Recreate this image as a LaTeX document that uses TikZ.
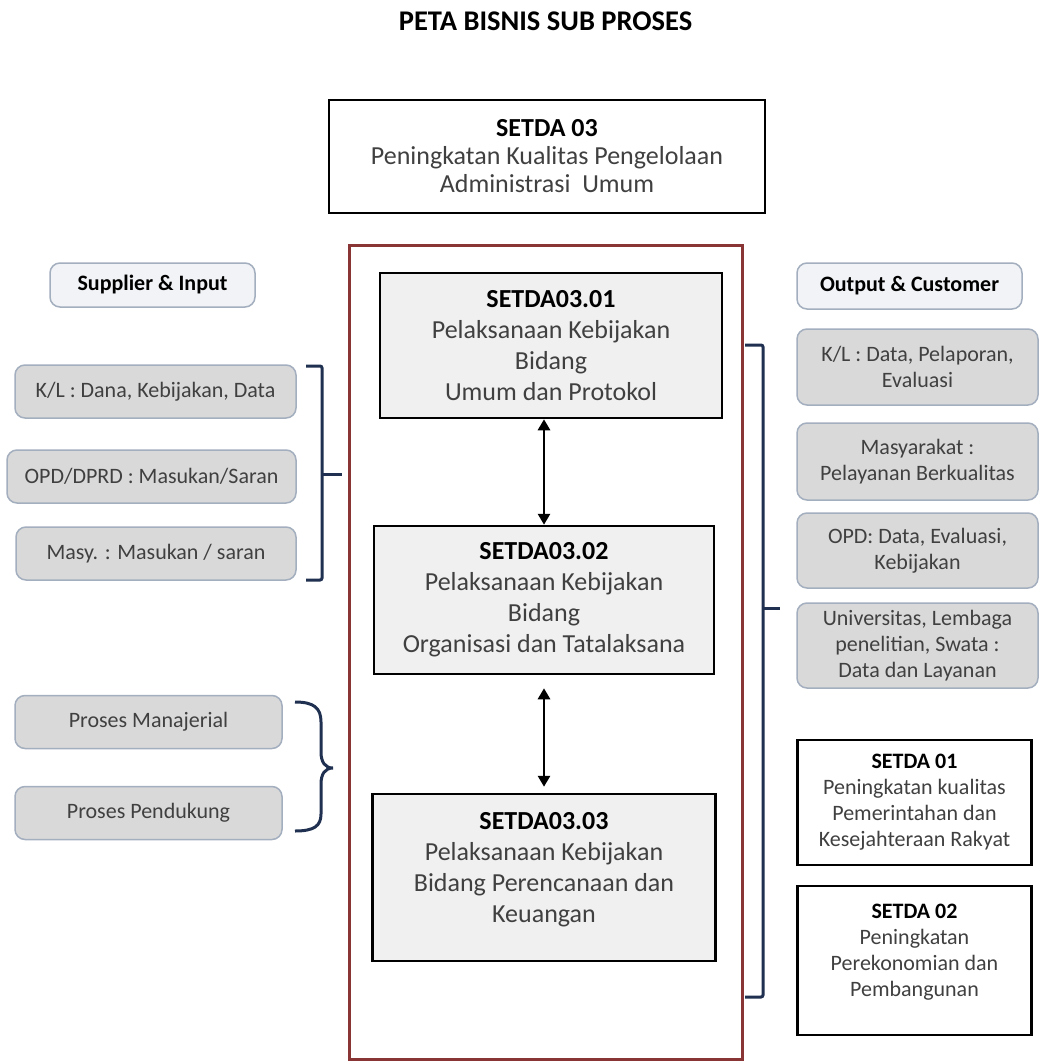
\documentclass[tikz,border=0pt]{standalone}
\usepackage{fontspec}
\setmainfont{Carlito}
\usetikzlibrary{shapes,arrows.meta,calc,positioning}
\definecolor{bodygray}{HTML}{404040}
\definecolor{boxgray}{HTML}{D9D9D9}
\definecolor{lightbox}{HTML}{F0F0F0}
\definecolor{edgeblue}{HTML}{A3AEBE}
\definecolor{headfill}{HTML}{F1F3F6}
\definecolor{darkred}{HTML}{8A3535}
\definecolor{navy}{HTML}{1F3050}

\begin{document}
\begin{tikzpicture}[
	x=1pt, y=-1pt,
	node distance=20pt and 20pt,
	font=\fontsize{22}{26}\selectfont
	]
\tikzset{
	base/.style = { rectangle, align=center, inner sep=0pt, text=bodygray },
	framed/.style = { base, draw=black, line width=2.5pt },
	subproc/.style = { framed, fill=lightbox, font=\fontsize{26}{31}\selectfont },
	setdabox/.style = { framed, fill=white, minimum width=234pt },
	side/.style = { base, rounded corners=10pt, draw=edgeblue, line width=1.5pt, fill=boxgray },
	sidein/.style = { side, minimum height=53pt },
	sideout/.style = { side, minimum width=241pt },
	header/.style = { side, fill=headfill, text=black, font=\fontsize{22}{26}\selectfont\bfseries },
	bracket/.style = { draw=navy, line width=3pt, rounded corners=2pt },
	arrow/.style = { line width=2.8pt, {Triangle[width=12pt,length=11pt]}-{Triangle[width=12pt,length=11pt]} }
}
\useasboundingbox (0,0) rectangle (1039,1062);

	\node (title) at (545.5,21) [font=\fontsize{28.5}{32}\selectfont\bfseries] {PETA BISNIS SUB PROSES};

	\node (setda03) [framed, fill=white, minimum width=436pt, minimum height=113pt, font=\fontsize{26}{28}\selectfont] at (547,156.5) {{\bfseries\color{black}SETDA 03}\\Peningkatan Kualitas Pengelolaan\\Administrasi\ \ Umum};

	% middle column
	\node (subproses) [draw=darkred, line width=3pt, minimum width=393pt, minimum height=814pt] at (545.5,652) {};

	\node (sub1) [subproc, minimum width=342pt, minimum height=145pt] at (551,345.5) {{\bfseries\color{black}SETDA03.01}\\Pelaksanaan Kebijakan\\Bidang\\Umum dan Protokol};
	\node (sub2) [subproc, minimum width=340pt, minimum height=148pt, below=105.5pt of sub1, xshift=-7pt] {{\bfseries\color{black}SETDA03.02}\\Pelaksanaan Kebijakan\\Bidang\\Organisasi dan Tatalaksana};
	\node (sub3) [subproc, minimum width=343pt, minimum height=167pt, below=117.5pt of sub2] {{\bfseries\color{black}SETDA03.03}\\Pelaksanaan Kebijakan\\Bidang Perencanaan dan\\Keuangan\\[-10pt]\mbox{}};

	% left column
	\node (supplier) [header, minimum width=205pt, minimum height=44pt] at (152.5,285) {Supplier \& Input};
	\node (klIn) [sidein, minimum width=281pt] at (155.5,391.5) {K/L : Dana, Kebijakan, Data};
	\node (opdIn) [sidein, minimum width=289pt, below=30.5pt of klIn, xshift=-4pt] {OPD/DPRD : Masukan/Saran};
	\node (masyIn) [sidein, minimum width=280pt, below=22.5pt of opdIn, xshift=4.5pt] {Masy. : Masukan / saran};

	\node (manajerial) [sidein, minimum width=267pt] at (148.5,722) {Proses Manajerial};
	\node (pendukung) [sidein, minimum width=267pt, below=36.5pt of manajerial] {Proses Pendukung};

	% right column
	\node (customer) [header, minimum width=225pt, minimum height=46pt] at (909.5,286) {Output \& Customer};
	\node (klOut) [sideout, minimum height=76pt] at (917.5,367) {K/L : Data, Pelaporan,\\Evaluasi};
	\node (masyOut) [sideout, minimum height=77pt, below=16.5pt of klOut] {Masyarakat :\\Pelayanan Berkualitas};
	\node (opdOut) [sideout, minimum height=75pt, below=11.5pt of masyOut] {OPD: Data, Evaluasi,\\Kebijakan};
	\node (univOut) [sideout, minimum height=85pt, below=13.5pt of opdOut] {Universitas, Lembaga\\penelitian, Swata :\\Data dan Layanan};

	\node (setda01) [setdabox, minimum height=125pt, below=50pt of univOut, xshift=-3pt] {{\bfseries\color{black}SETDA 01}\\Peningkatan kualitas\\Pemerintahan dan\\Kesejahteraan Rakyat};
	\node (setda02) [setdabox, minimum height=149pt, below=18.5pt of setda01] {{\bfseries\color{black}SETDA 02}\\Peningkatan\\Perekonomian dan\\Pembangunan\\[-6pt]\mbox{}};

	% paths
	\draw [arrow] (sub1.south -| sub2.north) -- (sub2.north);
	\draw [arrow, shorten <=13pt, shorten >=6pt] (sub2.south) -- (sub3.north);

	% brackets
	\draw [bracket] (306,366) -- (322,366) -- (322,580) -- (306,580);
	\draw [bracket] (322,474) -- (342,474);
	\draw [bracket] (745,345) -- (763,345) -- (763,997) -- (745,997);
	\draw [bracket] (763,608) -- (780,608);
	\draw [bracket, rounded corners=0pt] (295,702) .. controls (314,702) and (321,708) .. (321,722) -- (321,752) .. controls (321,762) and (325,768) .. (333,768) .. controls (325,768) and (321,774) .. (321,784) -- (321,814) .. controls (321,826) and (314,831) .. (295,831);

\end{tikzpicture}
\end{document}
